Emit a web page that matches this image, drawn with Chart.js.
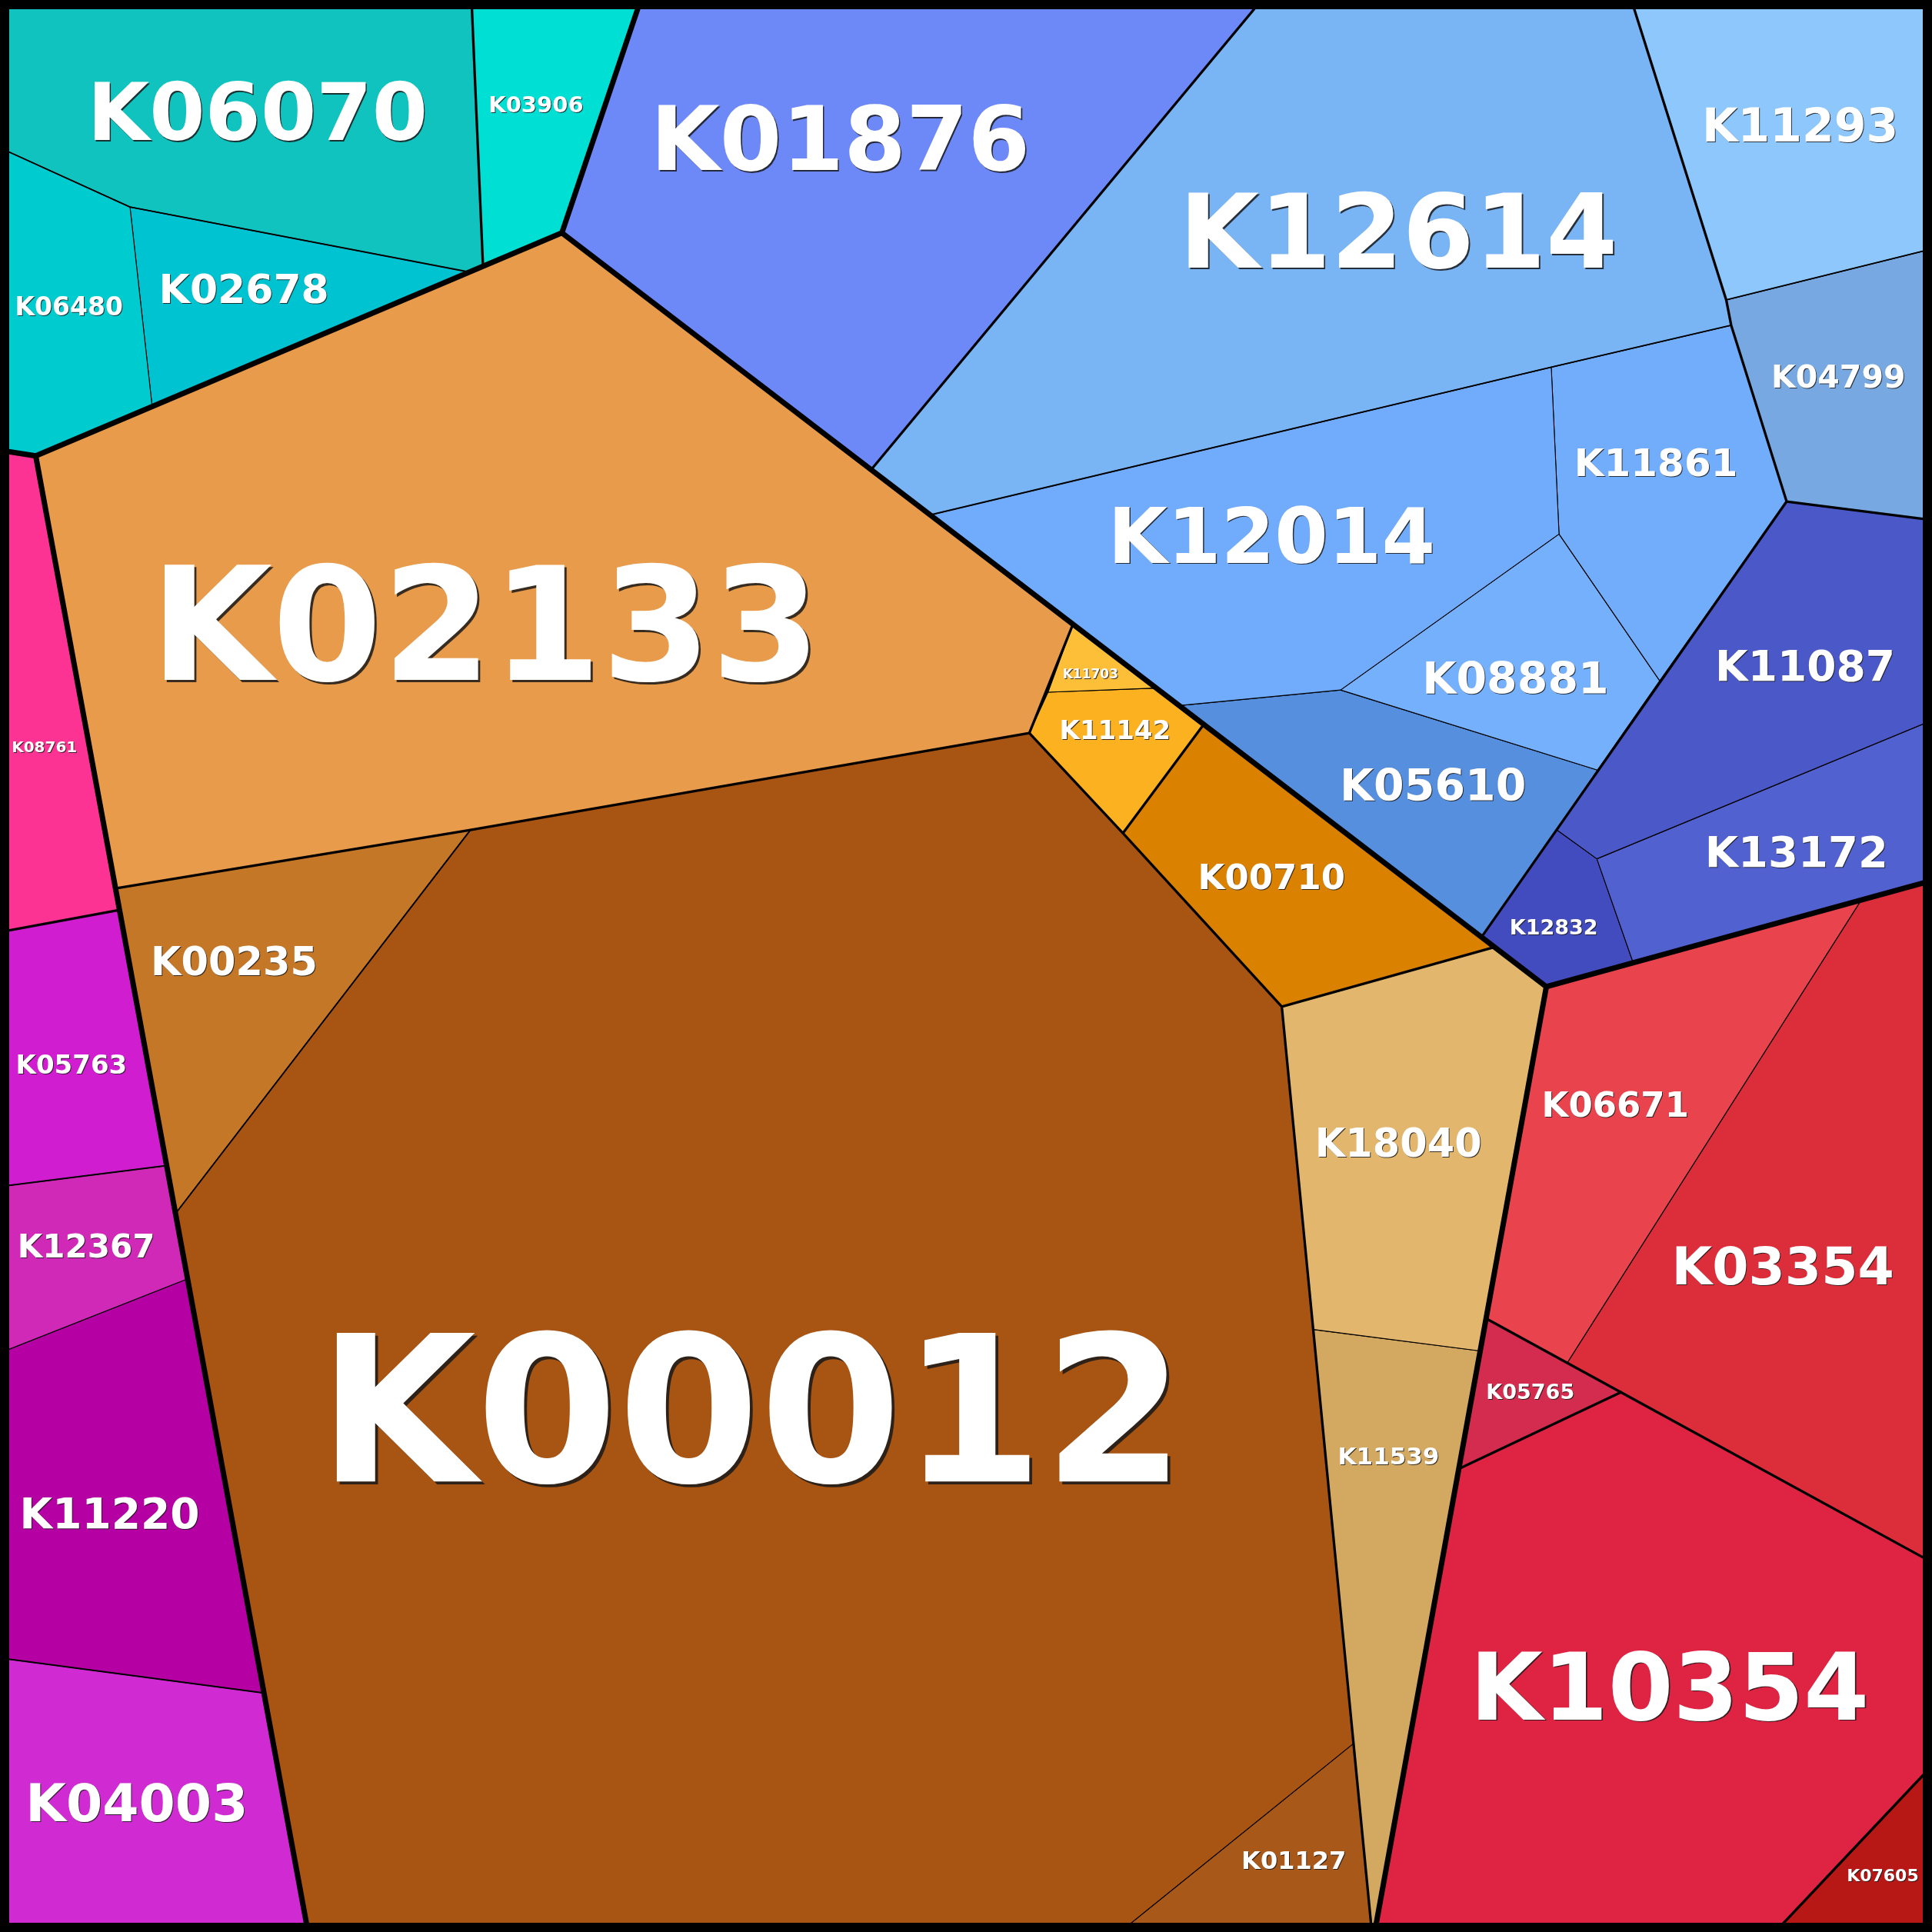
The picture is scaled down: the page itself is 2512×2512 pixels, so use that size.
<!DOCTYPE html>
<html><head><meta charset="utf-8">
<script src="https://cdn.jsdelivr.net/npm/chart.js@4.4.1/dist/chart.umd.min.js"></script>
<style>html,body{margin:0;padding:0;background:#000;}#wrap{width:2512px;height:2512px;position:relative;}</style>
</head><body><div id="wrap"><canvas id="c"></canvas></div>
<script>
// ---- data: cell names, cell polygons (vertices in chart units 0..1568), boundaries ----
const cellNames = ["K06070","K03906","K06480","K02678",
  "K01876","K12614","K11293","K04799","K12014","K11861","K08881","K05610","K11087","K13172","K12832",
  "K02133","K00235","K00012","K01127","K11703","K11142","K00710","K18040","K11539",
  "K08761","K05763","K12367","K11220","K04003",
  "K06671","K03354","K05765","K10354","K07605"];

const cellPolygons = [
  [[0,0],[382.7,0],[392,216.1],[381,220.8],[105.5,168],[0,120]],
  [[382.7,0],[520,0],[456,189],[392,216.1]],
  [[0,120],[105.5,168],[123.5,330],[29,370],[0,365.5]],
  [[105.5,168],[381,220.8],[123.5,330]],
  [[520,0],[1024,0],[707,381.2],[456,189]],
  [[707,381.2],[1024,0],[1324,0],[1401,243.4],[1405,264],[1259,298],[755,417.9]],
  [[1324,0],[1568,0],[1568,202],[1401,243.4]],
  [[1401,243.4],[1568,202],[1568,422],[1450,407],[1405,264]],
  [[755,417.9],[1259,298],[1265.3,433.4],[1088,560],[957,572.6]],
  [[1259,298],[1405,264],[1450,407],[1347,552.5],[1265.3,433.4]],
  [[1265.3,433.4],[1347,552.5],[1296.5,625],[1088,560]],
  [[957,572.6],[1088,560],[1296.5,625],[1263.5,673.5],[1202.4,760.5]],
  [[1450,407],[1568,422],[1568,584.6],[1296,697],[1263.5,673.5]],
  [[1296,697],[1568,584.6],[1568,714.6],[1325.2,780.6]],
  [[1263.5,673.5],[1296,697],[1325.2,780.6],[1255,800.8],[1202.4,760.5]],
  [[29,370],[456,189],[870.8,506.6],[835.4,595],[381.8,673.6],[93.7,721]],
  [[93.7,721],[381.8,673.6],[142.4,985]],
  [[381.8,673.6],[835.4,595],[911.4,676.2],[1040.3,817],[1098.5,1415],[909,1568],[250,1568],[142.4,985]],
  [[1098.5,1415],[1113.4,1568],[909,1568]],
  [[870.8,506.6],[938.4,558.4],[850.6,561.8]],
  [[850.6,561.8],[938.4,558.4],[977,587.9],[911.4,676.2],[835.4,595]],
  [[977,587.9],[1213,768.6],[1040.3,817],[911.4,676.2]],
  [[1040.3,817],[1213,768.6],[1255,800.8],[1201.3,1096.4],[1066,1079]],
  [[1066,1079],[1201.3,1096.4],[1115.7,1568],[1113.4,1568]],
  [[0,365.5],[29,370],[97,738.5],[0,756.5]],
  [[0,756.5],[97,738.5],[135.3,946],[0,963]],
  [[0,963],[135.3,946],[152.2,1037.9],[0,1097.9]],
  [[0,1097.9],[152.2,1037.9],[214.2,1374],[0,1345.6]],
  [[0,1345.6],[214.2,1374],[250,1568],[0,1568]],
  [[1255,800.8],[1510.6,730.4],[1272,1106],[1206,1070]],
  [[1510.6,730.4],[1568,714.6],[1568,1268],[1315.5,1130],[1272,1106]],
  [[1206,1070],[1315.5,1130],[1184,1192]],
  [[1184,1192],[1315.5,1130],[1568,1268],[1568,1433],[1440.7,1568],[1115.7,1568]],
  [[1568,1433],[1568,1568],[1440.7,1568]]
];

// group boundaries (top level, second level, third level)
const topBoundaries = [
  [[0,365.5],[29,370],[456,189],[520,0]],
  [[456,189],[1255,800.8]],
  [[29,370],[250,1568]],
  [[1255,800.8],[1115.7,1568]],
  [[1255,800.8],[1568,714.6]]
];
const midBoundaries = [
  [[382.7,0],[392,216.1]],
  [[1024,0],[707,381.2]],
  [[1324,0],[1401,243.4],[1405,264],[1450,407],[1568,422]],
  [[1450,407],[1202.4,760.5]],
  [[93.7,721],[381.8,673.6],[835.4,595],[870.8,506.6]],
  [[835.4,595],[911.4,676.2],[977,587.9]],
  [[911.4,676.2],[1040.3,817],[1213,768.6]],
  [[1040.3,817],[1113.4,1568]],
  [[0,756.5],[97,738.5]],
  [[1206,1070],[1315.5,1130],[1568,1268]],
  [[1315.5,1130],[1184,1192]],
  [[1568,1433],[1440.7,1568]]
];
const lowBoundaries = [
  [[0,120],[105.5,168],[381,220.8]],
  [[755,417.9],[1259,298],[1405,264]],
  [[1401,243.4],[1568,202]],
  [[381.8,673.6],[142.4,985]],
  [[0,963],[135.3,946]],
  [[0,1345.6],[214.2,1374]]
];
const frameOutline = [[0,0],[1568,0],[1568,1568],[0,1568],[0,0]];

// ---- styles / layout (not data) ----
const cellColors = ["#11C3BF","#00DFD4","#00CCD0","#00C3D2",
  "#6D88F7","#79B4F4","#8DC7FC","#77A8E2","#70ABFC","#71ADFA","#75B0FC","#568FDE","#4A58C8","#5162D0","#434CBE",
  "#E89B4A","#C47726","#A85412","#A85818","#FCBF37","#FBB120","#DB8100","#E2B66D","#D3A860",
  "#FC3393","#D11DD0","#D029B8","#B500A3","#D02AD3",
  "#E9444E","#DC2E3A","#D32C4E","#DE2442","#B81815"];
const labelX = [209,435,56,198, 682,1135,1461,1492,1032,1344,1230,1163,1465,1458,1261,
  394,190,610,1050,885,905,1032,1135,1127, 36,58,70,89,111, 1311,1447,1242,1355,1528];
const labelY = [92,85,249,235, 114,189,102,306,436,376,551,638,541,692,753,
  509,781,1147,1510,547,593,712,928,1182, 606,864,1012,1229,1464, 897,1028,1130,1370,1522];
const labelSize = [104,29,33,52, 116,134,60,41,100,50,57,57,55,56,27,
  205,51,265,32,17,34,45,51,31, 20,34,42,55,68, 45,68,27,122,22];

const toXY = pts => pts.map(p => ({x:p[0], y:p[1]}));
const datasets = [];
cellNames.forEach((n,i) => {
  datasets.push({label:n, data: toXY(cellPolygons[i].concat([cellPolygons[i][0]])),
    backgroundColor: cellColors[i], borderColor:'#000', borderWidth:1.1, fill:'shape',
    pointRadius:0, pointHoverRadius:0, tension:0, order:10, borderJoinStyle:'round'});
});
[[lowBoundaries,1.9,4],[midBoundaries,3.3,3],[topBoundaries,7,2]].forEach(([set,w,o]) => {
  set.forEach(line => datasets.push({label:'b', data: toXY(line), borderColor:'#000', borderWidth:w,
    fill:false, pointRadius:0, pointHoverRadius:0, tension:0, order:o, borderJoinStyle:'round', borderCapStyle:'round'}));
});
datasets.push({label:'frame', data: toXY(frameOutline), borderColor:'#000', borderWidth:24, fill:false,
  pointRadius:0, tension:0, order:1, borderJoinStyle:'miter'});

const labelPlugin = {
  id:'cellLabels',
  afterDatasetsDraw(chart){
    const {ctx, scales:{x, y}} = chart;
    ctx.save();
    ctx.textAlign = 'center'; ctx.textBaseline = 'middle';
    cellNames.forEach((n,i) => {
      const s = labelSize[i];
      const px = x.getPixelForValue(labelX[i]), py = y.getPixelForValue(labelY[i]) + s*0.075;
      ctx.font = 'bold ' + s + 'px "DejaVu Sans"';
      const off = Math.max(1, s*0.014);
      ctx.fillStyle = 'rgba(25,25,25,0.85)';
      ctx.fillText(n, px+off, py+off);
      ctx.fillStyle = '#ffffff';
      ctx.fillText(n, px, py);
    });
    ctx.restore();
  }
};

new Chart(document.getElementById('c'), {
  type:'line',
  data:{datasets},
  options:{
    responsive:true, maintainAspectRatio:false, animation:false, devicePixelRatio:1,
    layout:{padding:0},
    plugins:{legend:{display:false}, tooltip:{enabled:false}, filler:{propagate:false}},
    events:[],
    scales:{
      x:{type:'linear', min:0, max:1568, display:false},
      y:{type:'linear', min:0, max:1568, reverse:true, display:false}
    }
  },
  plugins:[labelPlugin]
});
</script></body></html>
